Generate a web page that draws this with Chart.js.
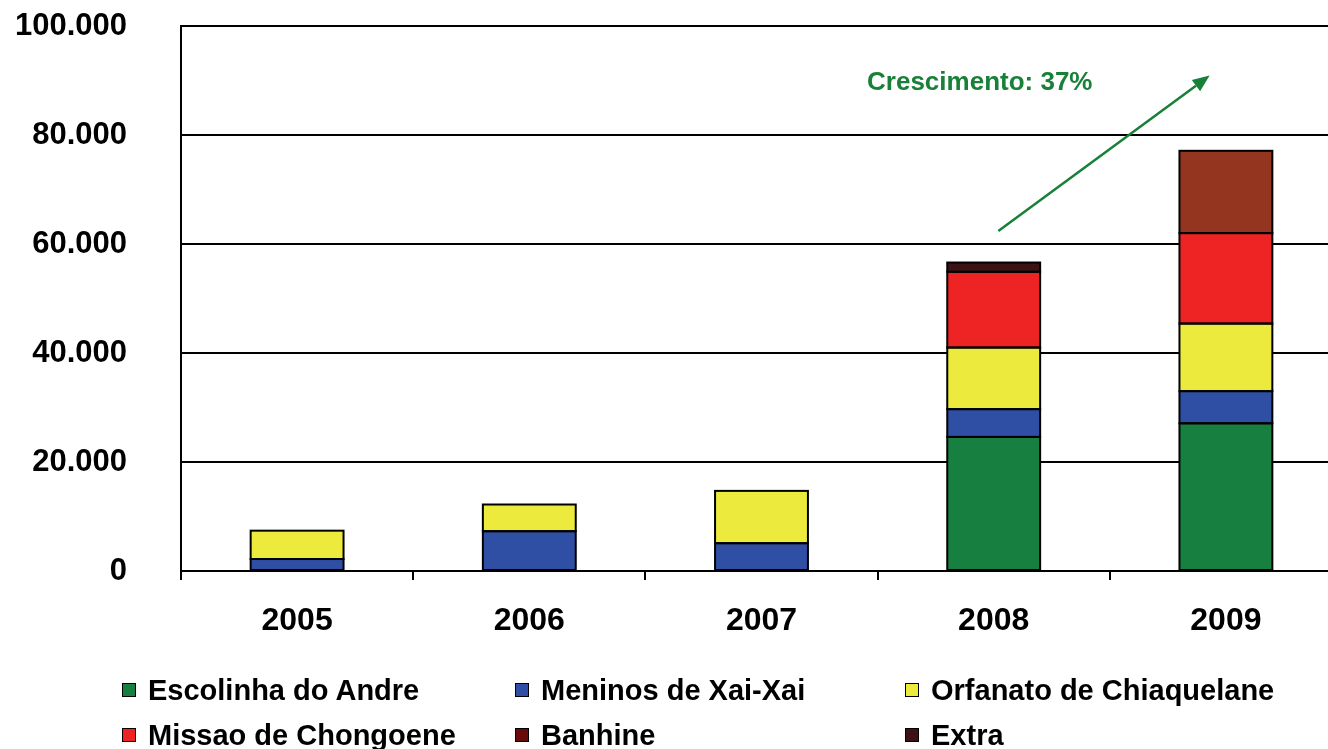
<!DOCTYPE html>
<html>
<head>
<meta charset="utf-8">
<script src="https://cdn.jsdelivr.net/npm/chart.js@4/dist/chart.umd.min.js"></script>
<style>
  html, body { margin: 0; padding: 0; background: #fff; overflow: hidden; width: 1328px; height: 749px; }
  #wrap { position: absolute; left: 0; top: 0; width: 1342px; height: 749px; }
  #legend { position: absolute; left: 0; top: 0; width: 1328px; height: 749px; pointer-events: none;
            font-family: "Liberation Sans", Arial, sans-serif; font-weight: bold; font-size: 29px; color: #000; }
  .li { position: absolute; display: flex; align-items: center; white-space: nowrap; height: 34px; }
  .sw { width: 12px; height: 12px; border: 1.5px solid #000; margin-right: 12px; }
</style>
</head>
<body>
<div id="wrap"><canvas id="c" width="1342" height="749"></canvas></div>
<div id="legend"></div>
<script>
// ---- data ----
const categories = ['2005', '2006', '2007', '2008', '2009'];
const seriesNames = ['Escolinha do Andre', 'Meninos de Xai-Xai', 'Orfanato de Chiaquelane',
                     'Missao de Chongoene', 'Banhine', 'Extra'];
const escolinha = [null, null, null, 24600, 27100];
const meninos   = [2200, 7300, 5100, 5100, 5900];
const orfanato  = [5200, 4900, 9600, 11300, 12400];
const missao    = [null, null, null, 13900, 16600];
const banhine   = [null, null, null, null, 15100];
const extra     = [null, null, null, 1700, null];
const yTicks = [0, 20000, 40000, 60000, 80000, 100000];
const annotationText = 'Crescimento: 37%';

// ---- styles ----
const barColors = ['#178040', '#2e4fa3', '#ecea3c', '#ee2424',
                   ['#660a0a', '#660a0a', '#660a0a', '#660a0a', '#943520'], '#3c1214'];
const legendColors = ['#178040', '#2e4fa3', '#ecea3c', '#ee2424', '#660a0a', '#3c1214'];
const FONT = '"Liberation Sans", Arial, sans-serif';

const allSeries = [escolinha, meninos, orfanato, missao, banhine, extra];
const datasets = allSeries.map((d, i) => ({
  label: seriesNames[i],
  data: d,
  backgroundColor: barColors[i],
  borderWidth: 0,
  barPercentage: 0.4,
  categoryPercentage: 1.0
}));

// annotation positions in data units (category index, value)
const arrowFrom = { x: 3.02, y: 62400 };
const arrowTo   = { x: 3.93, y: 90900 };
const textAt    = { x: 2.94, y: 89600 };

function px(scale, v) {
  const i = Math.floor(v);
  const a = scale.getPixelForValue(i);
  const b = scale.getPixelForValue(i + 1);
  return a + (v - i) * (b - a);
}

// centred 2px outlines on each bar element (positions come from the library)
const outlines = {
  id: 'outlines',
  afterDatasetsDraw(chart) {
    const ctx = chart.ctx;
    ctx.save();
    ctx.strokeStyle = '#000';
    ctx.lineWidth = 2;
    chart.data.datasets.forEach((ds, di) => {
      chart.getDatasetMeta(di).data.forEach((el, j) => {
        if (ds.data[j] == null) return;
        const p = el.getProps(['x', 'y', 'base', 'width'], true);
        ctx.strokeRect(p.x - p.width / 2, p.y, p.width, p.base - p.y);
      });
    });
    ctx.restore();
  }
};

const annot = {
  id: 'annot',
  afterDraw(chart) {
    const ctx = chart.ctx, xs = chart.scales.x, ys = chart.scales.y;
    const green = '#188038';
    ctx.save();
    ctx.fillStyle = green;
    ctx.font = 'bold 26px ' + FONT;
    ctx.textAlign = 'center';
    ctx.textBaseline = 'middle';
    ctx.fillText(annotationText, px(xs, textAt.x), ys.getPixelForValue(textAt.y));
    const x1 = px(xs, arrowFrom.x), y1 = ys.getPixelForValue(arrowFrom.y);
    const x2 = px(xs, arrowTo.x), y2 = ys.getPixelForValue(arrowTo.y);
    const ang = Math.atan2(y2 - y1, x2 - x1);
    const hl = 17, hw = 7;
    const bx = x2 - hl * Math.cos(ang), by = y2 - hl * Math.sin(ang);
    ctx.strokeStyle = green;
    ctx.lineWidth = 2.5;
    ctx.beginPath(); ctx.moveTo(x1, y1); ctx.lineTo(bx, by); ctx.stroke();
    ctx.beginPath();
    ctx.moveTo(x2, y2);
    ctx.lineTo(bx + hw * Math.sin(ang), by - hw * Math.cos(ang));
    ctx.lineTo(bx - hw * Math.sin(ang), by + hw * Math.cos(ang));
    ctx.closePath(); ctx.fill();
    ctx.restore();
  }
};

new Chart(document.getElementById('c'), {
  type: 'bar',
  data: { labels: categories, datasets },
  options: {
    responsive: false,
    animation: false,
    layout: { padding: { top: 26, right: 0, bottom: 98, left: 0 } },
    plugins: { legend: { display: false }, tooltip: { enabled: false } },
    scales: {
      x: {
        stacked: true,
        grid: { drawOnChartArea: false, drawTicks: true, tickLength: 9, color: '#000', lineWidth: 2, offset: true },
        border: { display: true, color: '#000', width: 2 },
        ticks: { color: '#000', font: { family: FONT, weight: 'bold', size: 32 }, padding: 22, maxRotation: 0 },
        afterFit(s) { s.height = 80; s.paddingLeft = 0; s.paddingRight = 0; }
      },
      y: {
        stacked: true,
        min: 0, max: 100000,
        afterBuildTicks(s) { s.ticks = yTicks.map(v => ({ value: v })); },
        grid: { color: '#000', lineWidth: 2, drawTicks: false },
        border: { display: true, color: '#000', width: 2 },
        ticks: {
          color: '#000', padding: 54,
          font: { family: FONT, weight: 'bold', size: 31 },
          callback: v => String(v).replace(/\B(?=(\d{3})+(?!\d))/g, '.')
        },
        afterFit(s) { s.width = 181; s.paddingTop = 0; s.paddingBottom = 0; }
      }
    }
  },
  plugins: [outlines, annot]
});

// ---- HTML legend (3 columns x 2 rows) ----
const legendCols = [122, 515, 905];
const legendRows = [690, 735];
const lg = document.getElementById('legend');
seriesNames.forEach((name, i) => {
  const d = document.createElement('div');
  d.className = 'li';
  d.style.left = legendCols[i % 3] + 'px';
  d.style.top = (legendRows[Math.floor(i / 3)] - 17) + 'px';
  const sw = document.createElement('span');
  sw.className = 'sw';
  sw.style.background = legendColors[i];
  const t = document.createElement('span');
  t.textContent = name;
  d.appendChild(sw); d.appendChild(t);
  lg.appendChild(d);
});
</script>
</body>
</html>
